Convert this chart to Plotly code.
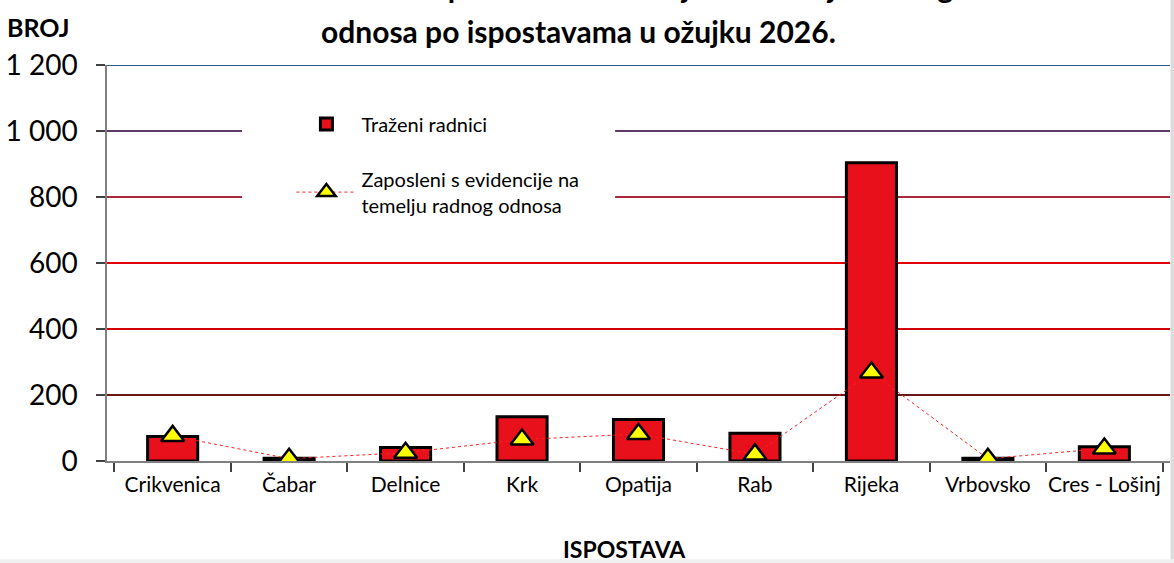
import plotly.graph_objects as go

categories = ["Crikvenica", "Čabar", "Delnice", "Krk", "Opatija", "Rab", "Rijeka", "Vrbovsko", "Cres - Lošinj"]
trazeni = [74, 8, 41, 134, 126, 84, 904, 8, 43]
zaposleni = [76, 7, 25, 65, 82, 20, 268, 7, 38]
y_ticks = [0, 200, 400, 600, 800, 1000, 1200]
grid_colors = [None, "#6B1515", "#D00000", "#E00000", "#A8283C", "#5E3A6B", "#2E5C8A"]

title_l1 = "Traženi radnici i zaposleni s evidencije na temelju radnog"
title_l2 = "odnosa po ispostavama u ožujku 2026."

FONT = "Lato"

fig = go.Figure()
fig.add_trace(go.Bar(
    x=categories, y=trazeni, name="Traženi radnici",
    marker=dict(color="#E8101A", line=dict(color="#000000", width=3)),
    legendgroup="a",
))
fig.add_trace(go.Scatter(
    x=categories, y=zaposleni, mode="lines+markers",
    name="Zaposleni s evidencije na<br>temelju radnog odnosa",
    line=dict(color="#FF2020", width=1, dash="dot"),
    marker=dict(symbol="triangle-up", size=20, color="#FFFF00",
                line=dict(color="#000000", width=2.5)),
    legendgroup="b",
))

shapes = []
for v, c in zip(y_ticks, grid_colors):
    if c is None:
        continue
    shapes.append(dict(type="line", xref="paper", yref="y", x0=0, x1=1, y0=v, y1=v,
                       line=dict(color=c, width=2), layer="below"))
# white legend backdrop interrupting grid lines
shapes.append(dict(type="rect", xref="paper", yref="paper", x0=0.127, x1=0.478,
                   y0=0.60, y1=0.905, fillcolor="white", line=dict(width=0), layer="below"))
# page-edge shadows
shapes.append(dict(type="rect", xref="paper", yref="paper", x0=1.0005, x1=1.005,
                   y0=-0.27, y1=1.17, fillcolor="#DCDCDC", line=dict(width=0), layer="below"))
shapes.append(dict(type="rect", xref="paper", yref="paper", x0=-0.11, x1=1.005,
                   y0=-0.265, y1=-0.248, fillcolor="#F0F0F0", line=dict(width=0), layer="below"))

fig.update_layout(
    width=1174, height=563,
    margin=dict(l=107, r=4, t=65, b=102),
    paper_bgcolor="white", plot_bgcolor="white",
    separators=", ",
    font=dict(family=FONT, color="#000000"),
    bargap=0.57,
    showlegend=True,
    legend=dict(x=0.1735, y=0.9, xanchor="left", yanchor="top",
                bgcolor="rgba(0,0,0,0)", font=dict(size=20, family=FONT),
                itemwidth=60, traceorder="grouped", tracegroupgap=26),
    shapes=shapes,
    annotations=[
        dict(text="<b>" + title_l1 + "</b>",
             xref="paper", yref="paper", x=0.444, y=1.149, xanchor="center", yanchor="bottom",
             showarrow=False, font=dict(size=30, family=FONT)),
        dict(text="<b>" + title_l2 + "</b>",
             xref="paper", yref="paper", x=0.444, y=1.035, xanchor="center", yanchor="bottom",
             showarrow=False, font=dict(size=30, family=FONT)),
        dict(text="<b>BROJ</b>", xref="paper", yref="paper", x=-0.096, y=1.053,
             xanchor="left", yanchor="bottom", showarrow=False, font=dict(size=25, family=FONT)),
        dict(text="<b>ISPOSTAVA</b>", xref="paper", yref="paper", x=0.487, y=-0.222,
             xanchor="center", yanchor="middle", showarrow=False, font=dict(size=23, family=FONT)),
    ],
)
fig.update_xaxes(
    type="category", showline=True, linecolor="#808080", linewidth=1.5,
    ticks="outside", tickson="boundaries", ticklen=9, tickcolor="#404040", tickwidth=1.5,
    showgrid=False, tickfont=dict(size=21, family=FONT), tickangle=0, automargin=False,
    ticklabelstandoff=4,
)
fig.update_yaxes(
    range=[0, 1200], tickvals=y_ticks, tickformat=",d",
    showline=True, linecolor="#808080", linewidth=1.5,
    ticks="outside", ticklen=9, tickcolor="#404040", tickwidth=1.5,
    showgrid=False, zeroline=False, tickfont=dict(size=28, family=FONT), automargin=False,
    ticklabelstandoff=13,
)

fig.write_html("out.html", config={"displayModeBar": False},
               post_script="document.body.style.margin='0px';document.body.style.overflow='hidden';")
